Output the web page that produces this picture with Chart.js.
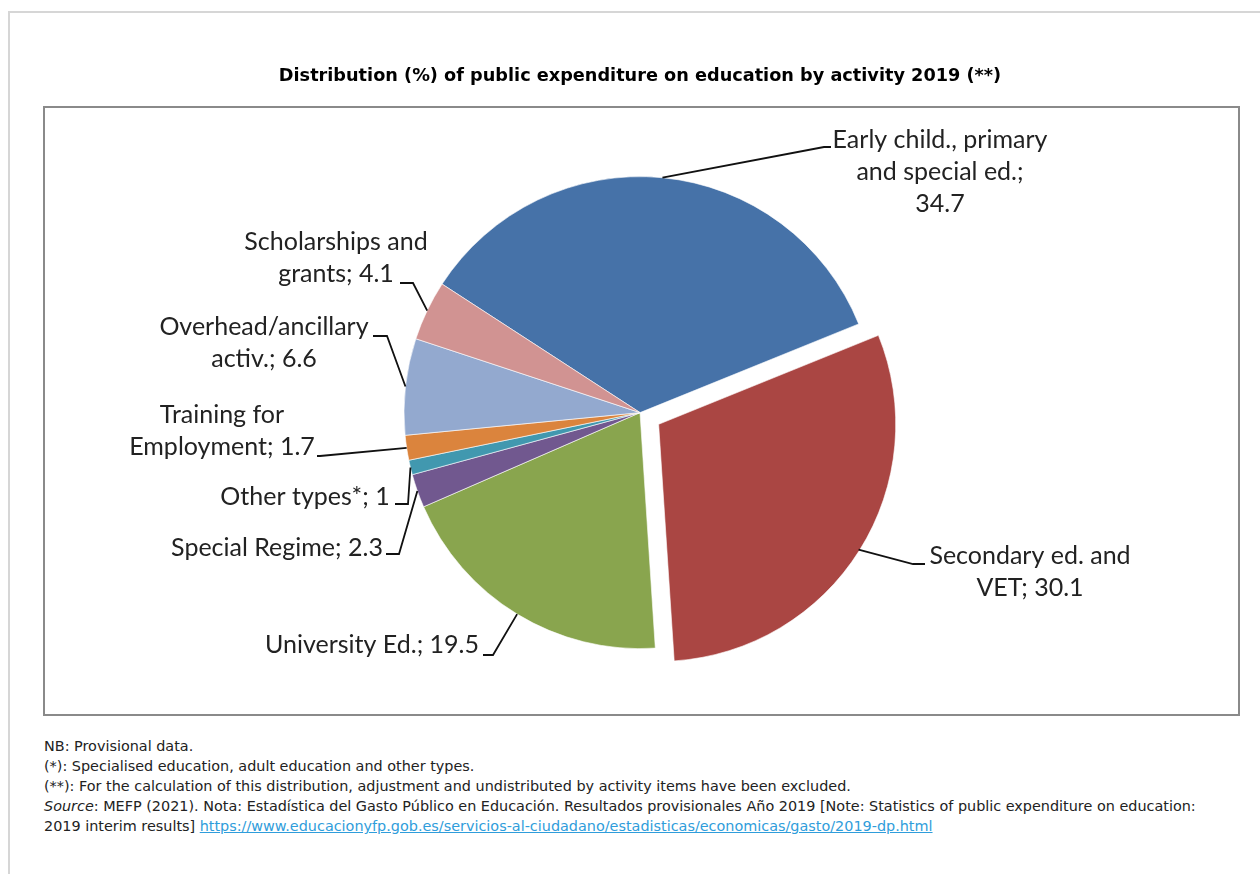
<!DOCTYPE html>
<html>
<head>
<meta charset="utf-8">
<script src="https://cdn.jsdelivr.net/npm/chart.js@4.4.1/dist/chart.umd.min.js"></script>
<style>
  body { margin: 0; background: #fff; }
  #frame { position: absolute; left: 8px; top: 11px; width: 1400px; height: 1000px; border: 2px solid #d6d6d6; }
  #wrap { position: absolute; left: 0; top: 0; width: 1260px; height: 730px; }
  #notes { position: absolute; left: 44px; top: 736px; font: 14.4px "DejaVu Sans", sans-serif; line-height: 20px; color: #222; }
  #notes a { color: #2f9ddb; }
</style>
</head>
<body>
<div id="frame"></div>
<div id="wrap"><canvas id="pieChart" width="1260" height="730"></canvas></div>
<div id="notes">
NB: Provisional data.<br>
(*): Specialised education, adult education and other types.<br>
(**): For the calculation of this distribution, adjustment and undistributed by activity items have been excluded.<br>
<i>Source</i>: MEFP (2021). Nota: Estadística del Gasto Público en Educación. Resultados provisionales Año 2019 [Note: Statistics of public expenditure on education:<br>
2019 interim results] <a href="https://www.educacionyfp.gob.es/servicios-al-ciudadano/estadisticas/economicas/gasto/2019-dp.html">https://www.educacionyfp.gob.es/servicios-al-ciudadano/estadisticas/economicas/gasto/2019-dp.html</a>
</div>
<script>
const ctxPie = document.getElementById('pieChart');

const activities = [
  'Early child., primary and special ed.',
  'Secondary ed. and VET',
  'University Ed.',
  'Special Regime',
  'Other types*',
  'Training for Employment',
  'Overhead/ancillary activ.',
  'Scholarships and grants'
];
const shares = [34.7, 30.1, 19.5, 2.3, 1, 1.7, 6.6, 4.1];
const sliceColours = ['#4672a8', '#aa4643', '#89a54e', '#71588f', '#4198af', '#db843d', '#93a9cf', '#d19392'];
const explode = [0, 88, 0, 0, 0, 0, 0, 0];

// where each data label sits: words per line, block centre x, first line y, elbow and end of leader line
const labelLayout = [
  {words: [3, 3, 1], cx: 940, cy: 140, elbow: [824, 147], end: [831, 147]},
  {words: [3, 2], cx: 1030, cy: 556, elbow: [913, 564], end: [925, 564]},
  {words: [4], cx: 372, cy: 645, elbow: [493, 655], end: [483, 655]},
  {words: [3], cx: 277, cy: 548, elbow: [399, 554], end: [386, 554]},
  {words: [3], cx: 305, cy: 497, elbow: [408, 504], end: [395, 504]},
  {words: [2, 2], cx: 222, cy: 415, elbow: [320, 456], end: [317, 456]},
  {words: [1, 2], cx: 264, cy: 327, elbow: [387, 336], end: [373, 336]},
  {words: [2, 2], cx: 336, cy: 242, elbow: [413, 283], end: [400, 283]}
];

const boxPlugin = {
  id: 'plotBox',
  beforeDraw(chart) {
    const c = chart.ctx;
    c.save();
    c.strokeStyle = '#8a8a8a';
    c.lineWidth = 2;
    c.strokeRect(44, 107, 1195, 608);
    c.restore();
  }
};

const labelPlugin = {
  id: 'leaderLabels',
  afterDatasetsDraw(chart) {
    const c = chart.ctx;
    const arcs = chart.getDatasetMeta(0).data;
    c.save();
    c.font = '25px Lato, "Open Sans", sans-serif';
    c.fillStyle = '#222';
    c.strokeStyle = '#111';
    c.lineWidth = 1.8;
    c.textAlign = 'center';
    c.textBaseline = 'middle';
    arcs.forEach((arc, i) => {
      const p = arc.getProps(['x', 'y', 'startAngle', 'endAngle', 'outerRadius'], true);
      const mid = (p.startAngle + p.endAngle) / 2;
      const shift = explode[i] / 4;
      const px = p.x + Math.cos(mid) * (p.outerRadius + shift);
      const py = p.y + Math.sin(mid) * (p.outerRadius + shift);
      const lay = labelLayout[i];
      c.beginPath();
      c.moveTo(px, py);
      c.lineTo(lay.elbow[0], lay.elbow[1]);
      c.lineTo(lay.end[0], lay.end[1]);
      c.stroke();
      const words = (activities[i] + '; ' + shares[i]).split(' ');
      let k = 0;
      lay.words.forEach((n, line) => {
        c.fillText(words.slice(k, k + n).join(' '), lay.cx, lay.cy + line * 32);
        k += n;
      });
    });
    c.restore();
  }
};

const pieChart = new Chart(ctxPie, {
  type: 'pie',
  data: {
    labels: activities,
    datasets: [{
      data: shares,
      backgroundColor: sliceColours,
      borderColor: '#ffffff',
      borderWidth: 0.6,
      offset: explode
    }]
  },
  options: {
    responsive: false,
    animation: false,
    rotation: -57,
    radius: 236,
    layout: {padding: {left: 44, right: 24, top: 0, bottom: 20}},
    plugins: {
      legend: {display: false},
      tooltip: {enabled: false},
      title: {
        display: true,
        text: 'Distribution (%) of public expenditure on education by activity 2019 (**)',
        color: '#000',
        font: {family: '"DejaVu Sans"', size: 17.7, weight: 'bold', lineHeight: 1.2},
        padding: {top: 66, bottom: 28}
      }
    }
  },
  plugins: [boxPlugin, labelPlugin]
});
</script>
</body>
</html>
